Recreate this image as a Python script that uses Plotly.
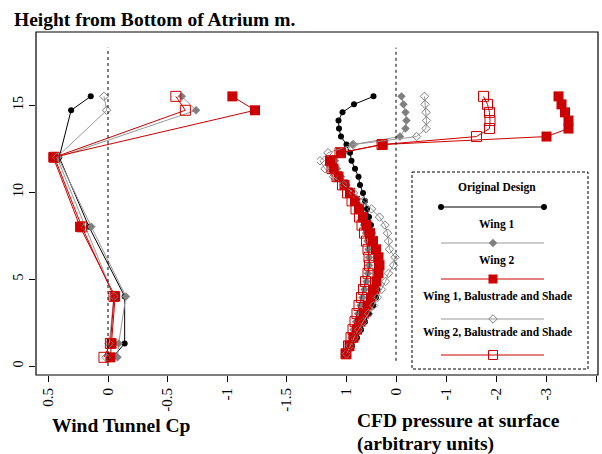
import plotly.graph_objects as go

# ---------------- data ----------------
series_names = ["Original Design", "Wing 1", "Wing 2",
                "Wing 1, Balustrade and Shade", "Wing 2, Balustrade and Shade"]

# Wind tunnel (left panel)
wt_heights = [0.5, 1.3, 4.0, 8.0, 12.0, 14.7, 15.5]
wt_original = [-0.04, -0.14, -0.14, 0.16, 0.41, 0.31, 0.145]
wt_wing1 = [-0.08, -0.09, -0.15, 0.14, 0.42, -0.74, -0.62]
wt_wing2 = [-0.02, -0.03, -0.06, 0.235, 0.46, -1.235, -1.045]
wt_wing1_bs = [0.017, -0.01, -0.05, 0.19, 0.43, 0.011, 0.034]
wt_wing2_bs = [0.034, -0.02, -0.05, 0.22, 0.45, -0.65, -0.57]

# CFD (right panel)
cfd_heights = [0.70, 1.16, 1.63, 2.09, 2.55, 3.01, 3.48, 3.94, 4.40, 4.86, 5.33,
               5.79, 6.25, 6.71, 7.18, 7.64, 8.10, 8.56, 9.03, 9.49, 9.95, 10.41,
               10.88, 11.34, 11.80, 12.26, 12.73, 13.19, 13.65, 14.11, 14.58, 15.04, 15.50]
cfd_original = [0.98, 0.88, 0.78, 0.70, 0.62, 0.54, 0.46, 0.40, 0.37, 0.36, 0.36,
                0.37, 0.39, 0.41, 0.44, 0.47, 0.50, 0.54, 0.58, 0.62, 0.66, 0.72,
                0.75, 0.82, 0.89, 0.92, 0.99, 1.10, 1.14, 1.15, 1.07, 0.84, 0.45]
cfd_wing1 = [0.99, 0.94, 0.89, 0.85, 0.80, 0.76, 0.71, 0.67, 0.63, 0.59, 0.56,
             0.54, 0.54, 0.55, 0.57, 0.60, 0.64, 0.69, 0.75, 0.82, 0.90, 0.99,
             1.10, 1.18, 1.22, 1.05, 0.87, -0.08, -0.19, -0.21, -0.19, -0.15, -0.11]
cfd_wing2 = [1.00, 0.93, 0.85, 0.78, 0.71, 0.64, 0.57, 0.50, 0.44, 0.39, 0.35,
             0.33, 0.35, 0.40, 0.46, 0.52, 0.59, 0.66, 0.74, 0.82, 0.92, 1.03,
             1.15, 1.25, 1.32, 1.10, 0.27, -3.01, -3.45, -3.45, -3.38, -3.31, -3.25]
cfd_wing1_bs = [0.99, 0.92, 0.84, 0.75, 0.66, 0.55, 0.45, 0.37, 0.29, 0.21, 0.15,
                0.05, 0.02, 0.13, 0.15, 0.17, 0.22, 0.33, 0.49, 0.65, 0.85, 1.05,
                1.25, 1.42, 1.52, 1.36, 0.85, -0.41, -0.60, -0.61, -0.60, -0.58, -0.57]
cfd_wing2_bs = [1.00, 0.95, 0.90, 0.86, 0.82, 0.78, 0.74, 0.69, 0.65, 0.61, 0.56,
                0.53, 0.54, 0.56, 0.59, 0.63, 0.68, 0.73, 0.80, 0.88, 0.97, 1.07,
                1.18, 1.28, 1.30, 1.12, 0.28, -1.61, -1.87, -1.88, -1.87, -1.83, -1.75]

wt_ticks = [0.5, 0, -0.5, -1, -1.5]
wt_ticklabels = ["0.5", "0", "-0.5", "-1", "-1.5"]
cfd_ticks = [1, 0, -1, -2, -3, -4]
cfd_ticklabels = ["1", "0", "-1", "-2", "-3", "-4"]
y_ticks = [0, 5, 10, 15]

# ---------------- styles ----------------
RED = "#cc0000"
GRAY = "#808080"
LGRAY = "#999999"
styles = {
    "Original Design": dict(symbol="circle", size=6, mcolor="black", lcolor="black", mline=0),
    "Wing 1": dict(symbol="diamond", size=6.5, mcolor=GRAY, lcolor=LGRAY, mline=0),
    "Wing 2": dict(symbol="square", size=10, mcolor=RED, lcolor=RED, mline=0),
    "Wing 1, Balustrade and Shade": dict(symbol="diamond-open", size=6.5, mcolor=GRAY, lcolor=LGRAY, mline=1),
    "Wing 2, Balustrade and Shade": dict(symbol="square-open", size=10, mcolor=RED, lcolor=RED, mline=1),
}

wt_data = [wt_original, wt_wing1, wt_wing2, wt_wing1_bs, wt_wing2_bs]
cfd_data = [cfd_original, cfd_wing1, cfd_wing2, cfd_wing1_bs, cfd_wing2_bs]

fig = go.Figure()

def make_marker(s, size=None):
    m = dict(symbol=s["symbol"], size=size or s["size"], color=s["mcolor"])
    m["line"] = dict(color=s["mcolor"], width=1) if s["mline"] else dict(width=0)
    return m

def add_series(xvals, yvals, name, xaxis, yaxis):
    s = styles[name]
    fig.add_trace(go.Scatter(x=xvals, y=yvals, mode="lines+markers", name=name,
                             xaxis=xaxis, yaxis=yaxis, showlegend=False,
                             line=dict(color=s["lcolor"], width=1), marker=make_marker(s)))

for name, vals in zip(series_names, wt_data):
    add_series(vals, wt_heights, name, "x", "y")
for name, vals in zip(series_names, cfd_data):
    add_series(vals, cfd_heights, name, "x2", "y")

# ---------------- custom legend (pixel-like coordinates on hidden x3/y3) ----------------
leg_left, leg_right, leg_top, leg_bottom = 412, 588, 172, 369
leg_line_x0, leg_line_x1, leg_mid = 441, 544, 493
leg_text_y = [187, 224, 260, 296, 332]
leg_line_y = [207, 243, 279, 319, 355]

for i, name in enumerate(series_names):
    s = styles[name]
    fig.add_trace(go.Scatter(x=[leg_line_x0, leg_line_x1], y=[leg_line_y[i]] * 2,
                             mode="lines", xaxis="x3", yaxis="y3", showlegend=False,
                             line=dict(color=s["lcolor"], width=1), hoverinfo="skip"))
    mx = [leg_line_x0, leg_line_x1] if name == "Original Design" else [leg_mid]
    msize = 9 if "square" in s["symbol"] else s["size"]
    fig.add_trace(go.Scatter(x=mx, y=[leg_line_y[i]] * len(mx), mode="markers",
                             xaxis="x3", yaxis="y3", showlegend=False,
                             marker=make_marker(s, msize), hoverinfo="skip"))
    fig.add_annotation(x=(leg_left + leg_right) / 2 - 3, y=leg_text_y[i], xref="x3", yref="y3",
                       text="<b>%s</b>" % name, showarrow=False,
                       font=dict(family="Liberation Serif", size=11.5, color="black"))

fig.add_shape(type="rect", xref="x3", yref="y3", x0=leg_left, x1=leg_right,
              y0=leg_top, y1=leg_bottom, line=dict(color="black", width=1, dash="3px,2px"))

# dashed zero lines
fig.add_shape(type="line", xref="x", yref="y", x0=0, x1=0, y0=0, y1=18.3,
              line=dict(color="black", width=1, dash="3px,3px"))
fig.add_shape(type="line", xref="x2", yref="y", x0=0, x1=0, y0=0.3, y1=18.3,
              line=dict(color="black", width=1, dash="3px,3px"))

# frame
fig.add_shape(type="rect", xref="paper", yref="paper", x0=0, x1=1, y0=0, y1=1,
              line=dict(color="black", width=1.2))

xtickfont = dict(family="Liberation Serif", size=15, color="black")
ytickfont = dict(family="Liberation Serif", size=14, color="black")
split = 0.5
fig.update_layout(
    width=602, height=454,
    margin=dict(l=36, r=4, t=32, b=79),
    paper_bgcolor="white", plot_bgcolor="rgba(0,0,0,0)",
    xaxis=dict(domain=[0, split], range=[0.605, -1.756], tickvals=wt_ticks,
               ticktext=wt_ticklabels, tickangle=-90, ticks="outside", ticklen=6,
               tickcolor="black", showgrid=False, zeroline=False, showline=False,
               tickfont=xtickfont, anchor="y"),
    xaxis2=dict(domain=[split, 1], range=[1.58, -4.04], tickvals=cfd_ticks,
                ticktext=cfd_ticklabels, tickangle=-90, ticks="outside", ticklen=6,
                tickcolor="black", showgrid=False, zeroline=False, showline=False,
                tickfont=xtickfont, anchor="y"),
    yaxis=dict(range=[-0.517, 19.2], tickvals=y_ticks, tickangle=-90, ticks="outside",
               ticklen=6, tickcolor="black", showgrid=False, zeroline=False,
               showline=False, tickfont=ytickfont),
    xaxis3=dict(domain=[0.0, 1.0], range=[36, 598], visible=False, anchor="y3"),
    yaxis3=dict(domain=[0.0, 1.0], range=[375, 32], visible=False, anchor="x3"),
)

# titles: (text, x px, y px, yanchor)
titles = [
    ("<b>Height from Bottom of Atrium m.</b>", 13, 19, "middle"),
    ("<b>Wind Tunnel Cp</b>", 51, 425, "middle"),
    ("<b>CFD pressure at surface</b>", 356, 432, "bottom"),
    ("<b>(arbitrary units)</b>", 356, 432, "top"),
]
for txt, px, py, ya in titles:
    fig.add_annotation(text=txt, showarrow=False,
                       font=dict(family="Liberation Serif", size=19.5, color="black"),
                       xref="paper", yref="paper", borderpad=0,
                       x=(px - 36) / 562, y=(375 - py) / 343, xanchor="left", yanchor=ya)

fig.write_html("out.html", config={"displayModeBar": False},
               post_script="document.body.style.margin='0px';")
